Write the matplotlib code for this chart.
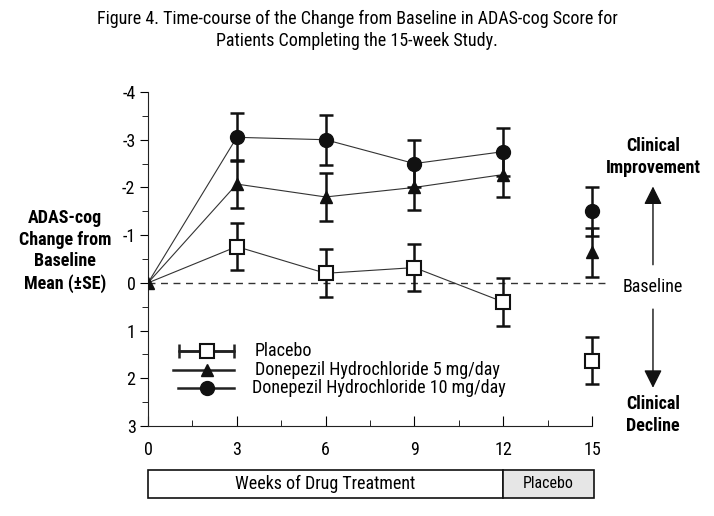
import matplotlib
matplotlib.use("Agg")
import matplotlib.pyplot as plt
from matplotlib.patches import Rectangle

plt.rcParams["font.family"] = ["Roboto Condensed", "DejaVu Sans"]

# data: change from baseline in ADAS-cog (negative = improvement)
weeks = [0, 3, 6, 9, 12]
week_off = 15
placebo = [0, -0.76, -0.20, -0.32, 0.40]
placebo_se = [0, 0.50, 0.50, 0.50, 0.50]
placebo_15, placebo_15_se = 1.63, 0.50
dz5 = [0, -2.07, -1.80, -2.00, -2.27]
dz5_se = [0, 0.50, 0.50, 0.48, 0.47]
dz5_15, dz5_15_se = -0.64, 0.52
dz10 = [0, -3.05, -3.00, -2.50, -2.75]
dz10_se = [0, 0.50, 0.52, 0.50, 0.50]
dz10_15, dz10_15_se = -1.50, 0.51

xticks = [0, 3, 6, 9, 12, 15]
yticks = [-4, -3, -2, -1, 0, 1, 2, 3]
labels = ["Placebo", "Donepezil Hydrochloride 5 mg/day", "Donepezil Hydrochloride 10 mg/day"]

fig = plt.figure(figsize=(7.14, 5.16), dpi=100, facecolor="w")
ax = fig.add_axes([148/714, 1-426/516, 444/714, 334/516])

ebar = dict(fmt="none", ecolor="#111111", elinewidth=1.8, capsize=5, capthick=1.8, zorder=3)
line = dict(color="#333333", lw=0.8, zorder=2)
styles = [dict(marker="s", ms=9.5, mfc="white", mec="#111111", mew=1.5),
          dict(marker="^", ms=9, mfc="#111111", mec="#111111"),
          dict(marker="o", ms=10, mfc="#111111", mec="#111111")]

series = [(placebo, placebo_se, placebo_15, placebo_15_se),
          (dz5, dz5_se, dz5_15, dz5_15_se),
          (dz10, dz10_se, dz10_15, dz10_15_se)]
for (y, se, y15, se15), st in zip(series, styles):
    ax.plot(weeks, y, **line)
    ax.errorbar(weeks[1:], y[1:], yerr=se[1:], **ebar)
    eb = ax.errorbar([week_off], [y15], yerr=[se15], **ebar)
    for art in eb.lines[1] + eb.lines[2]:
        art.set_clip_on(False)
    ax.plot(weeks[1:] + [week_off], y[1:] + [y15], ls="none", zorder=4, clip_on=False, **st)
ax.plot([0], [0], ls="none", zorder=4, **styles[1])

# baseline
ax.plot([0, 15.6], [0, 0], ls=(0, (5, 4)), color="#333333", lw=1, clip_on=False, zorder=1)

ax.set_xlim(0, 15)
ax.set_ylim(3, -4)
ax.set_xticks(xticks)
ax.set_xticks([1.5, 4.5, 7.5, 10.5, 13.5], minor=True)
ax.set_yticks(yticks)
ax.set_yticks([-3.5, -2.5, -1.5, -0.5, 0.5, 1.5, 2.5], minor=True)
ax.tick_params(axis="x", which="both", direction="in", pad=11, labelsize=13)
ax.tick_params(axis="x", which="major", length=7)
ax.tick_params(axis="x", which="minor", length=4)
ax.tick_params(axis="y", which="major", direction="out", length=6, pad=3, labelsize=13)
ax.tick_params(axis="y", which="minor", direction="out", length=4)
ax.set_yticklabels([str(v) for v in yticks])
for s in ["top", "right"]:
    ax.spines[s].set_visible(False)
for s in ["left", "bottom"]:
    ax.spines[s].set_color("#222222")

# legend drawn by hand
leg_y = [1.43, 1.82, 2.2]
leg_x0 = [1.05, 0.85, 1.01]
for yy, x0, st, lab, i in zip(leg_y, leg_x0, styles, labels, range(3)):
    ax.plot([x0, 2.9], [yy, yy], color="#222222", lw=1.8, clip_on=False, zorder=3)
    if i == 0:
        ax.errorbar([1.975], [yy], xerr=[0.925], fmt="none", ecolor="#222222",
                    elinewidth=1.8, capsize=5, capthick=1.8, clip_on=False)
    ax.plot([1.99], [yy], ls="none", clip_on=False, zorder=4, **st)
    ax.text(3.6 if i < 2 else 3.53, yy, lab, fontsize=13, va="center", ha="left")

# right annotations
xr = 17.06
ax.text(xr, 0.08, "Baseline", fontsize=13, ha="center", va="center", clip_on=False)
ax.text(xr, -2.64, "Clinical\nImprovement", fontsize=13, fontweight="bold",
        ha="center", va="center", linespacing=1.25)
ax.text(xr, 2.77, "Clinical\nDecline", fontsize=13, fontweight="bold",
        ha="center", va="center", linespacing=1.25)
arrow = dict(arrowstyle="-|>,head_length=1.1,head_width=0.55", color="#111111", lw=1,
             shrinkA=0, shrinkB=0)
ax.annotate("", xy=(xr, -2.02), xytext=(xr, -0.38), annotation_clip=False, arrowprops=arrow)
ax.annotate("", xy=(xr, 2.2), xytext=(xr, 0.55), annotation_clip=False, arrowprops=arrow)

# bottom boxes
ax.add_patch(Rectangle((0, 3.92), 12, 0.59, fill=False, ec="#111111", lw=1.2, clip_on=False))
ax.add_patch(Rectangle((12, 3.92), 3.07, 0.59, fc="#e6e6e6", ec="#111111", lw=1.2, clip_on=False))
ax.text(6, 4.215, "Weeks of Drug Treatment", fontsize=13, ha="center", va="center")
ax.text(13.53, 4.215, "Placebo", fontsize=11.5, ha="center", va="center")

fig.text(65/714, 1-251/516, "ADAS-cog\nChange from\nBaseline\nMean (\u00b1SE)", fontsize=13,
         fontweight="bold", ha="center", va="center", linespacing=1.25)
fig.text(0.5, 1-30/516, "Figure 4. Time-course of the Change from Baseline in ADAS-cog Score for\n"
         "Patients Completing the 15-week Study.", fontsize=13, ha="center", va="center",
         linespacing=1.3)

fig.savefig("out.png", dpi=100)
